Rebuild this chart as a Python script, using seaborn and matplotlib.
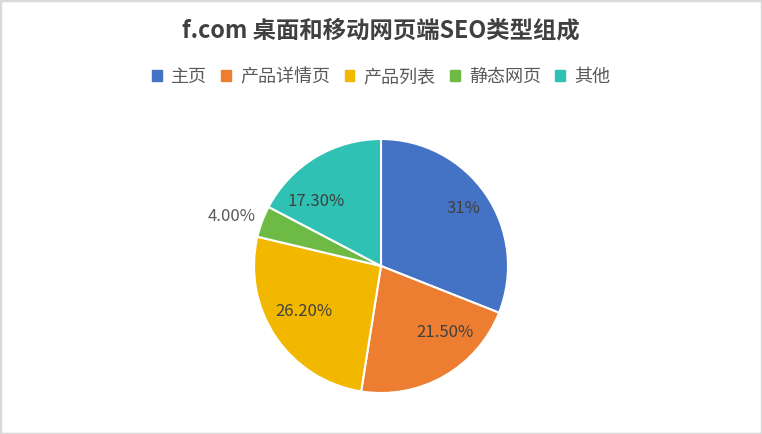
import numpy as np
import matplotlib
matplotlib.use("Agg")
import matplotlib.pyplot as plt
import seaborn as sns
from matplotlib.patches import Rectangle

categories = ['主页', '产品详情页', '产品列表', '静态网页', '其他']
values = [31.0, 21.5, 26.2, 4.0, 17.3]
pct_labels = ['31%', '21.50%', '26.20%', '4.00%', '17.30%']
colors = ['#4472C4', '#ED7D31', '#F2B800', '#6DBB45', '#2EC1B4']

sns.set_theme(style='white')
plt.rcParams['font.family'] = ['Noto Sans CJK SC', 'DejaVu Sans']

fig = plt.figure(figsize=(7.62, 4.34), dpi=100)
fig.patch.set_facecolor('white')

# pie axes: square, centred where the reference pie sits
W, H = 762, 434
cx, cy, r = 381, 266, 127
ax = fig.add_axes([(cx - r) / W, (H - cy - r) / H, 2 * r / W, 2 * r / H])
wedges, _ = ax.pie(values, colors=sns.color_palette(colors), startangle=90,
                   counterclock=False, radius=1,
                   wedgeprops=dict(edgecolor='white', linewidth=1.5))
ax.set_xlim(-1, 1)
ax.set_ylim(-1, 1)
ax.set_aspect('equal')
ax.axis('off')

# label spots (Excel "best fit"), in pie-radius units
label_pos = [(0.65, 0.45), (0.50, -0.52), (-0.61, -0.36), (-1.18, 0.39), (-0.51, 0.51)]
for (lx, ly), lab in zip(label_pos, pct_labels):
    col = '#595959' if abs(lx) > 1 else '#404040'
    ax.text(lx, ly, lab, ha='center', va='center', fontsize=12, color=col)

fig.text(0.5, 1 - 31 / H, 'f.com 桌面和移动网页端SEO类型组成', ha='center', va='center',
         fontsize=16.8, fontweight='bold', color='#404040')

handles = [Rectangle((0, 0), 1, 1, color=c) for c in colors]
fig.legend(handles, categories, loc='center', bbox_to_anchor=(0.5, 1 - 77 / H),
           ncol=5, frameon=False, fontsize=13, handlelength=0.55, handleheight=0.55,
           handletextpad=0.5, columnspacing=0.8, labelcolor='#595959')

# light grey frame around the chart
fig.add_artist(Rectangle((0, 0), 1, 1, transform=fig.transFigure, fill=False,
                         edgecolor='#D9D9D9', linewidth=2.5))

fig.savefig('out.png', dpi=100)
